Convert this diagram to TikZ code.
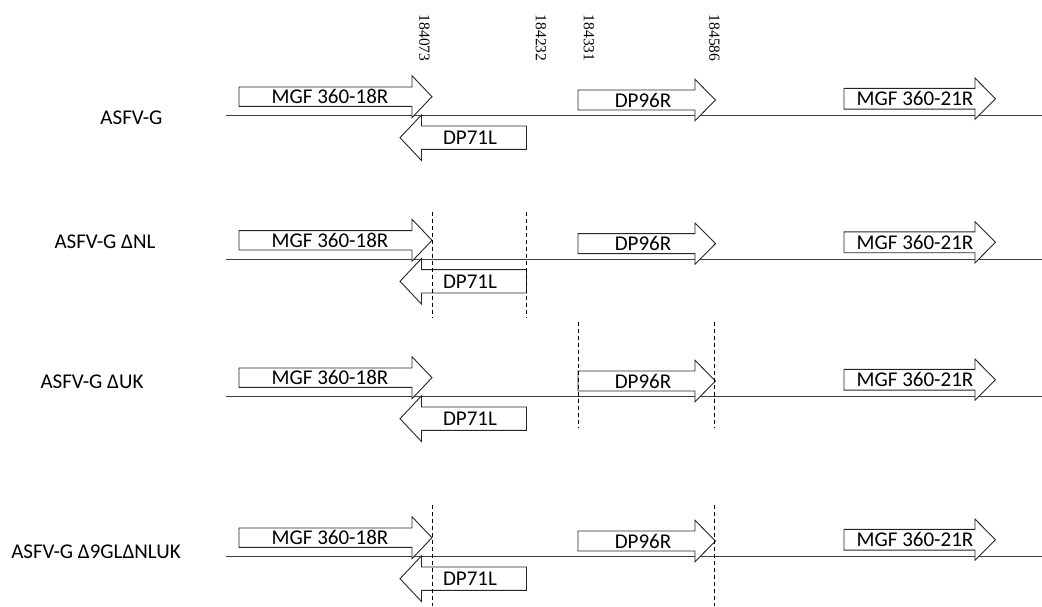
\documentclass[tikz,border=0pt]{standalone}
\usepackage{fontspec}
\setmainfont{Carlito}
\newfontfamily\posfont{Liberation Serif}

\begin{document}
\begin{tikzpicture}[
  x=1pt, y=-1pt,
  font=\fontsize{21}{25}\selectfont,
  genome/.style={draw=black!75, line width=1.1pt},
  gene/.style={draw=black!85, line width=0.9pt, fill=white},
  cut/.style={draw=black, line width=0.8pt, dash pattern=on 4pt off 3pt},
  coord/.style={font=\posfont\fontsize{15.5}{18}\selectfont, rotate=-90, inner sep=0pt},
  strain/.style={inner sep=0pt},
  gname/.style={inner sep=0pt}
]
  \useasboundingbox (0,0) rectangle (1042,606);

  % genome positions (top)
  \node[coord] (p184073) at (424.5,38) {184073};
  \node[coord] (p184232) at (541,38) {184232};
  \node[coord] (p184331) at (589,38) {184331};
  \node[coord] (p184586) at (714.5,38) {184586};

  % strain names
  \node[strain] (asfvg)     at (131.5,117.7) {ASFV-G};
  \node[strain] (asfvg-nl)  at (105,241.7)   {ASFV-G ΔNL};
  \node[strain] (asfvg-uk)  at (92,381.7)    {ASFV-G ΔUK};
  \node[strain] (asfvg-all) at (96,551.7)    {ASFV-G Δ9GLΔNLUK};

  % one row per strain: genome line and the four genes
  \foreach \s/\y in {g/115.7, nl/259.3, uk/396.7, all/556.7} {
    \draw[genome] (226,\y) -- (1042,\y);
    % MGF 360-18R
    \draw[gene] (239,\y-28.7) -- (412,\y-28.7) -- (412,\y-40) -- (432,\y-19)
      -- (412,\y+2) -- (412,\y-9.3) -- (239,\y-9.3) -- cycle;
    \node[gname] (mgf18-\s) at (330,\y-19) {MGF 360-18R};
    % DP71L
    \draw[gene] (526.5,\y+10.3) -- (421.5,\y+10.3) -- (421.5,\y-0.8) -- (400,\y+22)
      -- (421.5,\y+44.8) -- (421.5,\y+33.7) -- (526.5,\y+33.7) -- cycle;
    \node[gname] (dp71-\s) at (470,\y+22) {DP71L};
    % DP96R
    \draw[gene] (578,\y-25.7) -- (695,\y-25.7) -- (695,\y-36.4) -- (715.5,\y-15.7)
      -- (695,\y+5) -- (695,\y-5.7) -- (578,\y-5.7) -- cycle;
    \node[gname] (dp96-\s) at (643,\y-15.7) {DP96R};
    % MGF 360-21R
    \draw[gene] (844,\y-27.4) -- (975,\y-27.4) -- (975,\y-37.6) -- (995.5,\y-17)
      -- (975,\y+3.6) -- (975,\y-6.6) -- (844,\y-6.6) -- cycle;
    \node[gname] (mgf21-\s) at (915,\y-17) {MGF 360-21R};
  }

  % deleted regions
  \draw[cut] (432,211.7) -- (432,317);
  \draw[cut] (526,211.7) -- (526,317);
  \draw[cut] (578,321.7) -- (578,427.3);
  \draw[cut] (714.5,321.7) -- (714.5,427.3);
  \draw[cut] (432,505) -- (432,606);
  \draw[cut] (714.5,505) -- (714.5,606);
\end{tikzpicture}
\end{document}
